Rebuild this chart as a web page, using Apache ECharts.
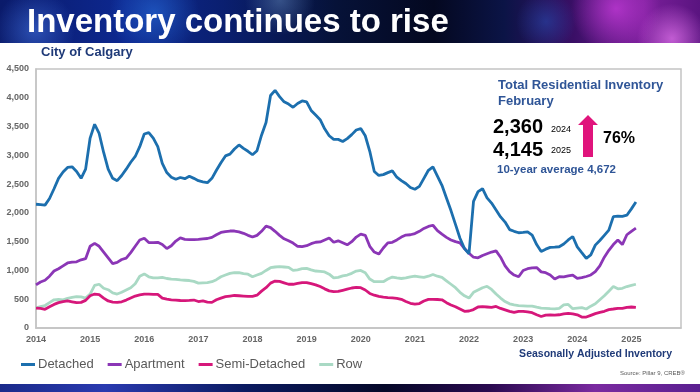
<!DOCTYPE html>
<html>
<head>
<meta charset="utf-8">
<script src="https://cdn.jsdelivr.net/npm/echarts@6/dist/echarts.min.js"></script>
<style>
html,body{margin:0;padding:0;width:700px;height:392px;overflow:hidden;background:#fff;font-family:"Liberation Sans",Arial,sans-serif;}
#hdr{position:absolute;left:0;top:0;width:700px;height:43px;
background:
radial-gradient(circle at 5% 70%, rgba(70,120,230,0.55) 0, rgba(70,120,230,0) 40px),
radial-gradient(circle at 22% 30%, rgba(40,110,220,0.6) 0, rgba(40,110,220,0) 45px),
radial-gradient(circle at 40% 0%, rgba(110,150,200,0.45) 0, rgba(110,150,200,0) 35px),
radial-gradient(circle at 78% 50%, rgba(40,90,200,0.45) 0, rgba(40,90,200,0) 30px),
radial-gradient(circle at 88% 20%, rgba(200,60,220,0.75) 0, rgba(200,60,220,0) 45px),
radial-gradient(circle at 96% 90%, rgba(230,120,240,0.7) 0, rgba(230,120,240,0) 35px),
linear-gradient(90deg,#0a1a6a 0%,#0d2890 18%,#0a1f70 32%,#061238 48%,#040820 62%,#0b1446 72%,#3a0f66 82%,#7a1f9a 92%,#5a1480 100%);}
#ftr{position:absolute;left:0;top:384px;width:700px;height:8px;
background:linear-gradient(90deg,#1a2a8a 0%,#2a3ab0 15%,#0a1a60 35%,#050828 55%,#2a0a50 70%,#7a2aa0 85%,#5a2090 100%);}
#chart{position:absolute;left:0;top:0;width:700px;height:392px;}
</style>
</head>
<body>
<div id="hdr"></div>
<div id="ftr"></div>
<div id="chart"></div>
<script>
var years = [2014,2015,2016,2017,2018,2019,2020,2021,2022,2023,2024,2025];
var seriesNames = ['Detached','Apartment','Semi-Detached','Row'];
var yTicks = [0,500,1000,1500,2000,2500,3000,3500,4000,4500];

var detached = [
2150,2145,2135,2250,2420,2600,2710,2790,2800,2720,
2600,2760,3300,3540,3380,3050,2760,2600,2560,2650,
2760,2880,2980,3150,3370,3395,3300,3150,2860,2700,
2620,2585,2615,2595,2635,2600,2560,2540,2525,2600,
2740,2870,2990,3020,3110,3180,3120,3070,3010,3080,
3350,3570,4040,4130,4020,3930,3890,3835,3900,3945,
3930,3780,3700,3620,3460,3340,3277,3277,3240,3290,
3360,3440,3465,3340,3070,2720,2650,2665,2700,2730,
2620,2560,2510,2440,2410,2460,2600,2740,2800,2640,
2480,2260,2040,1800,1560,1380,1290,2200,2370,2420,
2260,2170,2050,1930,1840,1710,1680,1655,1660,1670,
1615,1450,1330,1370,1400,1405,1412,1460,1530,1590,
1410,1310,1211,1270,1440,1520,1610,1700,1935,1945,
1940,1960,2070,2190];

var apartment = [
750,800,830,900,990,1030,1080,1130,1145,1150,
1185,1205,1420,1470,1420,1320,1220,1120,1140,1190,
1215,1310,1420,1530,1560,1485,1485,1488,1450,1380,
1430,1510,1565,1540,1535,1535,1540,1550,1555,1575,
1620,1660,1675,1685,1685,1670,1645,1610,1580,1610,
1680,1770,1745,1680,1610,1550,1515,1475,1420,1415,
1430,1465,1490,1495,1530,1565,1490,1515,1480,1445,
1500,1580,1630,1610,1420,1320,1285,1390,1480,1488,
1530,1580,1615,1620,1640,1680,1730,1765,1785,1690,
1630,1575,1530,1500,1480,1380,1300,1230,1220,1260,
1290,1320,1340,1230,1080,980,920,891,1000,1030,
1045,1050,975,960,920,850,891,890,905,920,
863,875,895,921,980,1080,1230,1350,1450,1530,
1450,1620,1680,1735];

var semiDetached = [
345,340,325,370,410,440,460,470,455,440,
445,480,560,590,580,520,470,450,445,455,
485,520,555,575,590,590,585,585,520,500,
490,485,478,475,480,486,460,470,450,445,
490,520,545,555,565,560,555,550,550,570,
640,700,780,815,810,785,760,760,775,790,
790,770,750,720,680,645,632,635,655,675,
695,706,700,660,600,570,548,535,528,525,
515,498,460,430,415,425,470,498,498,495,
490,440,400,370,330,290,295,320,365,370,
365,360,375,340,315,290,270,290,290,280,
265,230,200,225,228,225,230,245,255,245,
230,190,190,220,250,270,290,320,330,342,
342,360,365,360];

var row = [
350,370,390,440,490,495,490,515,530,545,
540,520,590,740,760,690,665,610,590,620,
660,700,770,900,940,890,870,870,880,860,
850,845,835,830,825,810,780,785,790,805,
840,890,920,950,962,960,945,935,890,920,
950,1000,1048,1060,1065,1060,1055,1000,1010,1030,
1036,1010,990,985,975,935,870,880,905,920,
950,990,1000,960,850,805,805,805,850,885,
870,860,870,890,900,890,880,900,930,900,
880,820,760,700,620,560,520,620,660,700,
725,670,590,520,460,420,400,390,385,380,
380,362,345,340,335,332,340,400,410,335,
345,355,330,380,420,490,560,640,720,680,
690,720,740,760];

var colors = ['#1c6fae','#8b36b6','#d6177a','#a9d9c4'];

// monthly categories Jan 2014 .. Dec 2025
var categories = [];
years.forEach(function(y){ for (var m = 1; m <= 12; m++) categories.push(y + '-' + (m < 10 ? '0' + m : m)); });

var chart = echarts.init(document.getElementById('chart'), null, {renderer:'canvas'});
var FONT = '"Liberation Sans", Arial, sans-serif';
var dataSets = [detached, apartment, semiDetached, row];

var option = {
  backgroundColor: 'transparent',
  animation: false,
  color: colors,
  grid: {left: 36, right: 19, top: 69, bottom: 64, show: true, borderColor: '#c4c4c4', borderWidth: 1.5, backgroundColor: 'transparent'},
  legend: {
    left: 16, top: 353, itemWidth: 14, itemHeight: 3, itemGap: 14, icon: 'rect',
    textStyle: {fontSize: 13, color: '#595959', fontFamily: FONT, padding: [0,0,0,-2]},
    data: seriesNames
  },
  xAxis: {
    type: 'category', data: categories, boundaryGap: false,
    axisLine: {show: true, lineStyle: {color: '#c4c4c4', width: 1.5}},
    axisTick: {show: false},
    splitLine: {show: false},
    axisLabel: {
      interval: function(i){ return i % 12 === 0; },
      formatter: function(v){ return v.slice(0,4); },
      fontSize: 9, fontWeight: 'bold', color: '#666666', fontFamily: FONT, margin: 7
    }
  },
  yAxis: {
    type: 'value', min: yTicks[0], max: yTicks[yTicks.length-1], interval: 500,
    axisLine: {show: true, lineStyle: {color: '#c4c4c4', width: 1.5}},
    axisTick: {show: false},
    splitLine: {show: false},
    axisLabel: {
      formatter: function(v){ return v.toLocaleString('en-US'); },
      fontSize: 9, fontWeight: 'bold', color: '#666666', fontFamily: FONT, margin: 7
    }
  },
  series: seriesNames.map(function(n, i){
    return {
      name: n, type: 'line', data: dataSets[i], symbol: 'none', smooth: false,
      lineStyle: {width: 2.8, color: colors[i]}, z: 10 - i
    };
  }),
  graphic: [
    {type:'text', left: 27, top: 6, style:{text:'Inventory continues to rise', font:'bold 33px ' + FONT, fill:'#ffffff'}},
    {type:'text', left: 41, top: 46, style:{text:'City of Calgary', font:'bold 13px ' + FONT, fill:'#1f3a78'}},
    {type:'text', left: 498, top: 79, style:{text:'Total Residential Inventory', font:'bold 13px ' + FONT, fill:'#2f5597'}},
    {type:'text', left: 498, top: 95, style:{text:'February', font:'bold 13px ' + FONT, fill:'#2f5597'}},
    {type:'text', left: 493, top: 117, style:{text:'2,360', font:'bold 20px ' + FONT, fill:'#000000'}},
    {type:'text', left: 551, top: 125, style:{text:'2024', font:'9px ' + FONT, fill:'#000000'}},
    {type:'text', left: 493, top: 140, style:{text:'4,145', font:'bold 20px ' + FONT, fill:'#000000'}},
    {type:'text', left: 551, top: 146, style:{text:'2025', font:'9px ' + FONT, fill:'#000000'}},
    {type:'polygon', shape:{points:[[588,115],[598,125],[593,125],[593,157],[583,157],[583,125],[578,125]]}, style:{fill:'#e0147c'}},
    {type:'text', left: 603, top: 131, style:{text:'76%', font:'bold 16px ' + FONT, fill:'#000000'}},
    {type:'text', left: 497, top: 164, style:{text:'10-year average 4,672', font:'bold 11.5px ' + FONT, fill:'#2f5597'}},
    {type:'text', right: 28, top: 349, style:{text:'Seasonally Adjusted Inventory', font:'bold 10.5px ' + FONT, fill:'#1f3a78'}},
    {type:'text', right: 15, top: 370, style:{text:'Source: Pillar 9, CREB®', font:'6px ' + FONT, fill:'#595959'}}
  ]
};
chart.setOption(option);
</script>
</body>
</html>
